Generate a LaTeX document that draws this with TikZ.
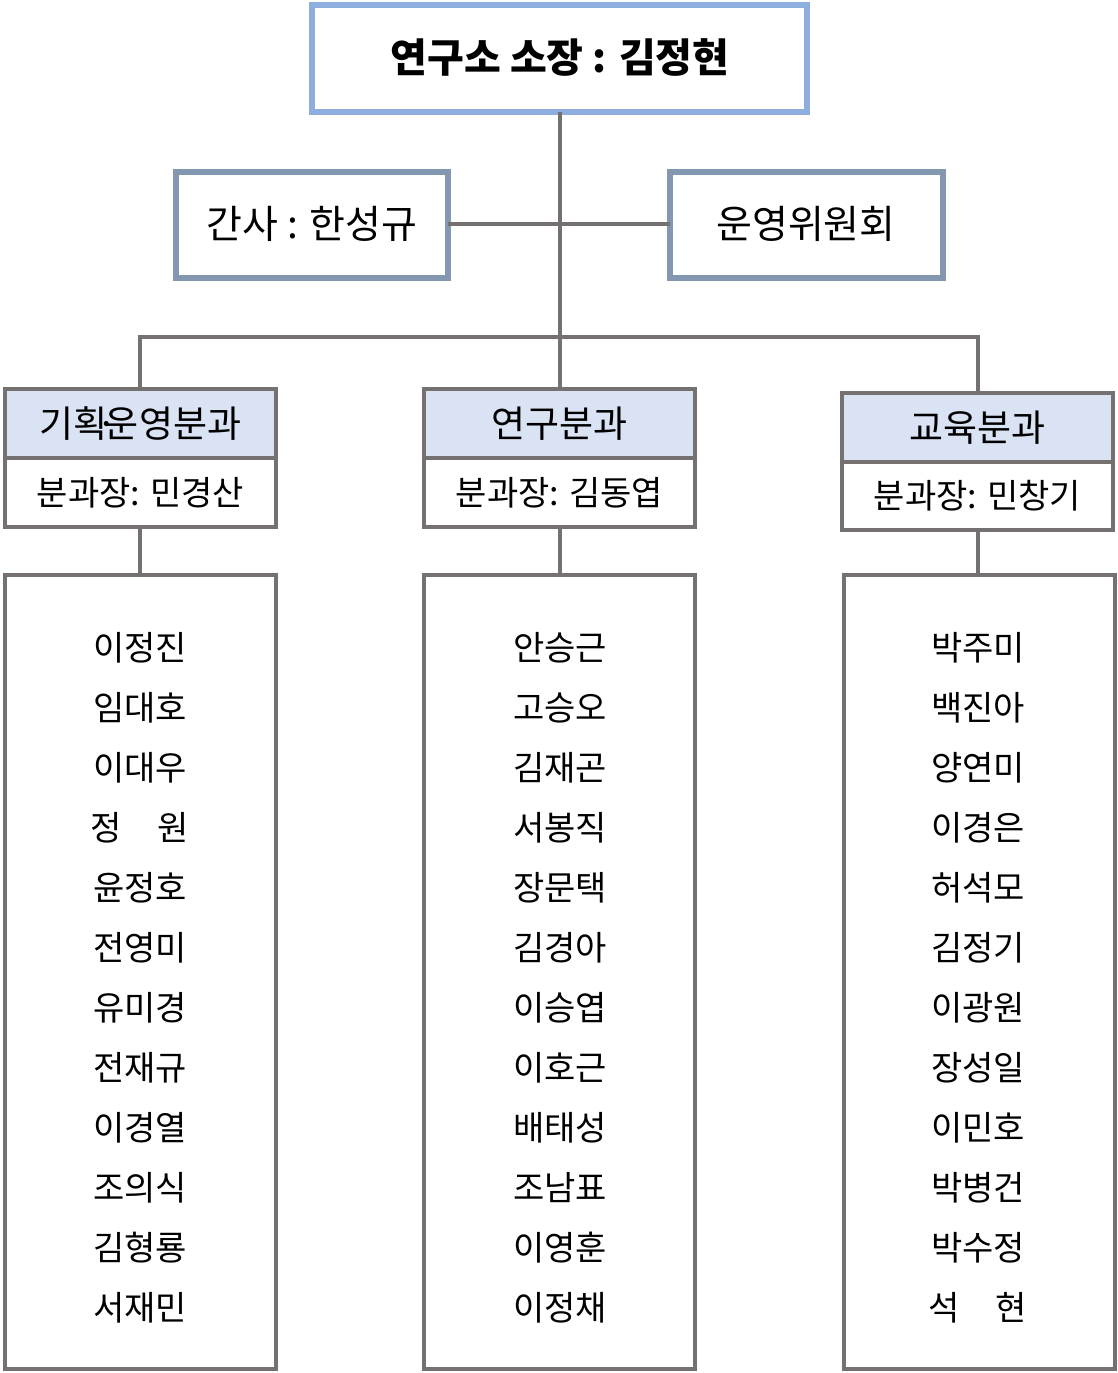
\documentclass[tikz,border=0pt]{standalone}
\usepackage{fontspec}
\setmainfont{Noto Sans CJK KR}
\definecolor{topblue}{HTML}{8FAEE0}
\definecolor{sideblue}{HTML}{8497B0}
\definecolor{gr}{HTML}{767171}
\definecolor{hdr}{HTML}{DAE3F3}
\begin{document}
\begin{tikzpicture}[x=1pt,y=-1pt,
  bx/.style={draw=gr,line width=4pt},
  ln/.style={draw=gr,line width=3.5pt},
  txt/.style={font=\fontsize{34}{40}\selectfont}]
\useasboundingbox (0,0) rectangle (1118,1373);
% top
\draw[draw=topblue,line width=6pt] (312,5) rectangle (807,112);
\node[font=\fontsize{40}{46}\selectfont\bfseries] (top) at (560,57) {연구소 소장 : 김정현};
\coordinate (tb) at (560,112);
\coordinate (hub) at (560,337);
\draw[ln] (tb) -- (hub);
% side
\draw[draw=sideblue,line width=6pt] (176,172) rectangle (448,278);
\node[font=\fontsize{39}{44}\selectfont] (gan) at (312,224) {간사 : 한성규};
\draw[draw=sideblue,line width=6pt] (670,172) rectangle (943,278);
\node[font=\fontsize{39}{44}\selectfont] (un) at (806,224) {운영위원회};
\coordinate (gr1) at (448,224); \coordinate (ur1) at (670,224);
\draw[ln] (gr1) -- (ur1);
% horizontal bus
\coordinate (l0) at (140,337); \coordinate (r0) at (978,337);
\draw[ln] (140,389) -- (l0) -- (r0) -- (978,393);
\draw[ln] (hub) -- (560,389);
% departments
\foreach \xa/\xb/\ya/\yb/\yc/\h/\s in {5/276/389/458/527/{기획\kern-0.32em·\kern-0.32em운영분과}/{분과장: 민경산},424/695/389/458/527/연구분과/{분과장: 김동엽},842/1113/393/462/530/교육분과/{분과장: 민창기}}{
  \fill[hdr] (\xa,\ya) rectangle (\xb,\yb);
  \draw[bx] (\xa,\ya) rectangle (\xb,\yc);
  \draw[bx] (\xa,\yb) -- (\xb,\yb);
  \node[font=\fontsize{37}{42}\selectfont] at ({(\xa+\xb)/2},{(\ya+\yb)/2}) {\h};
  \node[font=\fontsize{34}{40}\selectfont] at ({(\xa+\xb)/2},{(\yb+\yc)/2}) {\s};
}
\draw[ln] (140,527) -- (140,575);
\draw[ln] (560,527) -- (560,575);
\draw[ln] (978,530) -- (978,575);
\draw[bx] (5,575) rectangle (276,1369);
\draw[bx] (424,575) rectangle (695,1369);
\draw[bx] (844,575) rectangle (1115,1369);
\foreach \n [count=\i from 0] in {이정진,임대호,이대우,정\hspace{1.05em}원,윤정호,전영미,유미경,전재규,이경열,조의식,김형룡,서재민}
  \node[txt] at (140,648+60*\i) {\n};
\foreach \n [count=\i from 0] in {안승근,고승오,김재곤,서봉직,장문택,김경아,이승엽,이호근,배태성,조남표,이영훈,이정채}
  \node[txt] at (560,648+60*\i) {\n};
\foreach \n [count=\i from 0] in {박주미,백진아,양연미,이경은,허석모,김정기,이광원,장성일,이민호,박병건,박수정,석\hspace{1.05em}현}
  \node[txt] at (978,648+60*\i) {\n};
\end{tikzpicture}
\end{document}
